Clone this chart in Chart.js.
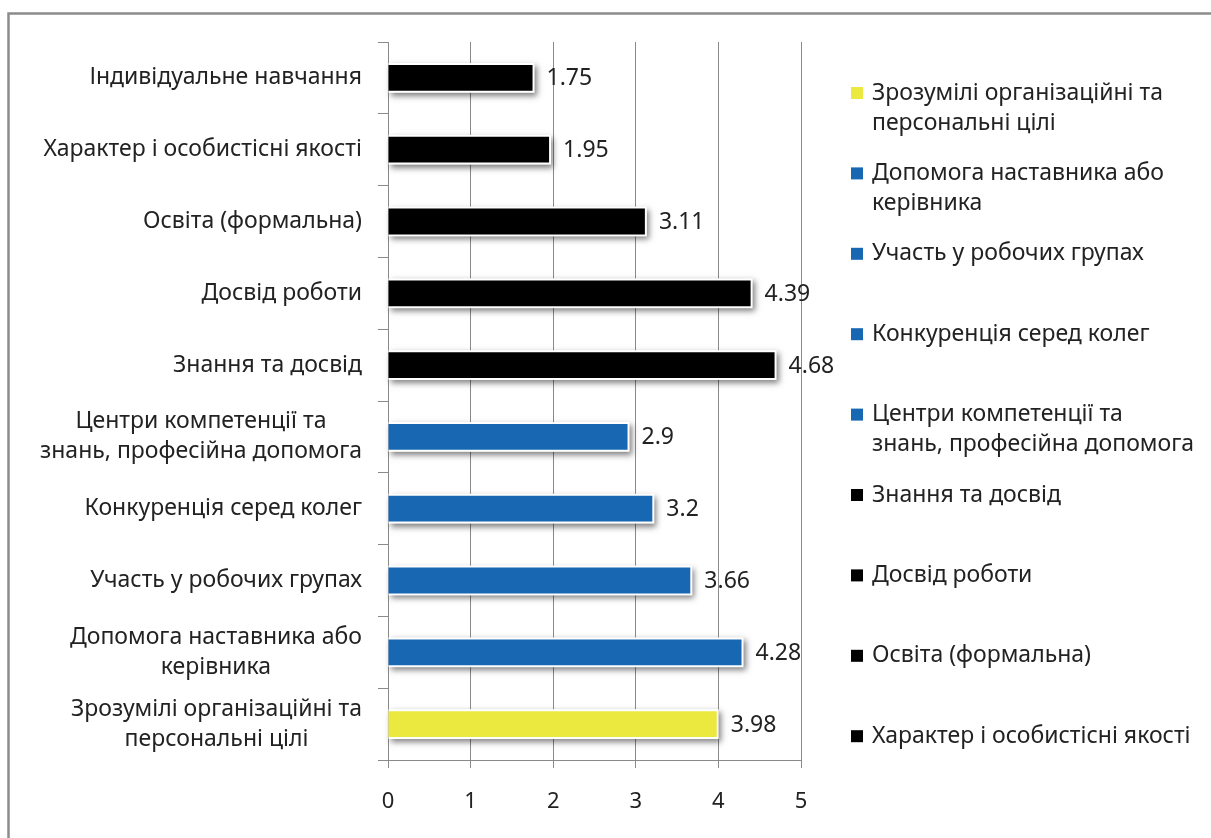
<!DOCTYPE html>
<html>
<head>
<meta charset="utf-8">
<script src="https://cdn.jsdelivr.net/npm/chart.js@4.4.1/dist/chart.umd.min.js"></script>
<style>
  html, body { margin: 0; padding: 0; background: #fff; }
  #wrap { width: 1211px; height: 838px; position: relative; }
</style>
</head>
<body>
<div id="wrap"><canvas id="barChart"></canvas></div>
<script>
// Дані графіка (зверху вниз)
const categories = [
    'Індивідуальне навчання',
    'Характер і особистісні якості',
    'Освіта (формальна)',
    'Досвід роботи',
    'Знання та досвід',
    ['Центри компетенції та', 'знань, професійна допомога'],
    'Конкуренція серед колег',
    'Участь у робочих групах',
    ['Допомога наставника або', 'керівника'],
    ['Зрозумілі організаційні та', 'персональні цілі']
];
const values = [1.75, 1.95, 3.11, 4.39, 4.68, 2.9, 3.2, 3.66, 4.28, 3.98];
const barColors = [
    '#000000', '#000000', '#000000', '#000000', '#000000',
    '#1767b3', '#1767b3', '#1767b3', '#1767b3',
    '#ebe93f'
];
const xTicks = [0, 1, 2, 3, 4, 5];

const FONT = '"Noto Sans", "Open Sans", sans-serif';
const TEXT = '#222222';
const GRID = '#8a8a8a';

// рамка навколо діаграми
const framePlugin = {
    id: 'frame',
    beforeDraw(chart) {
        const c = chart.ctx;
        c.save();
        c.strokeStyle = '#8c8c8c';
        c.lineWidth = 2.5;
        c.strokeRect(8.5, 13.5, 1400, 1000);
        c.restore();
    }
};

// тінь і біла обводка під стовпчиками
const shadowPlugin = {
    id: 'barShadow',
    beforeDatasetsDraw(chart) {
        const c = chart.ctx;
        const meta = chart.getDatasetMeta(0);
        c.save();
        c.fillStyle = '#ffffff';
        c.shadowColor = 'rgba(0,0,0,0.5)';
        c.shadowBlur = 6;
        c.shadowOffsetX = 2;
        c.shadowOffsetY = 3;
        meta.data.forEach(bar => {
            const p = bar.getProps(['x', 'y', 'base', 'height'], true);
            c.fillRect(p.base, p.y - p.height / 2 - 2, p.x - p.base + 2, p.height + 4);
        });
        c.restore();
    }
};

// підписи значень праворуч від стовпчиків
const valueLabels = {
    id: 'valueLabels',
    afterDatasetsDraw(chart) {
        const c = chart.ctx;
        const meta = chart.getDatasetMeta(0);
        c.save();
        c.font = '23px ' + FONT;
        c.fillStyle = TEXT;
        c.textAlign = 'left';
        c.textBaseline = 'middle';
        meta.data.forEach((bar, i) => {
            c.fillText(String(values[i]), bar.x + 14, bar.y + 1);
        });
        c.restore();
    }
};

// підписи категорій (багаторядкові центруються всередині блоку)
const categoryLabels = {
    id: 'categoryLabels',
    afterDraw(chart) {
        const c = chart.ctx;
        const yScale = chart.scales.y;
        const right = chart.chartArea.left - 26;
        const lh = 30;
        c.save();
        c.font = '23px ' + FONT;
        c.fillStyle = TEXT;
        c.textAlign = 'center';
        c.textBaseline = 'middle';
        categories.forEach((cat, i) => {
            const lines = Array.isArray(cat) ? cat : [cat];
            const maxW = Math.max(...lines.map(l => c.measureText(l).width));
            const cx = right - maxW / 2;
            const yc = yScale.getPixelForValue(i);
            lines.forEach((l, j) => {
                c.fillText(l, cx, yc + (j - (lines.length - 1) / 2) * lh);
            });
        });
        c.restore();
    }
};

// легенда праворуч (порядок знизу вгору, що не влізло - не показуємо)
const sideLegend = {
    id: 'sideLegend',
    afterDraw(chart) {
        const c = chart.ctx;
        const x0 = 851, top = 93, step = 80.4, lh = 30;
        c.save();
        c.font = '23px ' + FONT;
        c.textAlign = 'left';
        c.textBaseline = 'middle';
        for (let k = 0; k < categories.length; k++) {
            const i = categories.length - 1 - k;
            const y = top + k * step;
            if (y > chart.chartArea.bottom) break;
            const lines = Array.isArray(categories[i]) ? categories[i] : [categories[i]];
            c.fillStyle = barColors[i];
            c.fillRect(x0, y - 6, 12, 12);
            c.fillStyle = TEXT;
            lines.forEach((l, j) => c.fillText(l, x0 + 21, y + j * lh));
        }
        c.restore();
    }
};

const ctx = document.getElementById('barChart').getContext('2d');
const barChart = new Chart(ctx, {
    type: 'bar',
    data: {
        labels: categories,
        datasets: [{
            data: values,
            backgroundColor: barColors,
            borderWidth: 0,
            categoryPercentage: 1,
            barPercentage: 0.36
        }]
    },
    options: {
        indexAxis: 'y',
        responsive: true, maintainAspectRatio: false,
        animation: false,
        layout: { padding: { left: 0, right: 410, top: 42, bottom: 0 } },
        plugins: { legend: { display: false }, tooltip: { enabled: false } },
        scales: {
            x: {
                type: 'linear', min: 0, max: 5,
                afterBuildTicks: scale => { scale.ticks = xTicks.map(v => ({ value: v })); },
                afterFit: scale => { scale.height = 78; },
                grid: { color: GRID, lineWidth: 1, tickLength: 8 },
                border: { color: GRID, width: 1 },
                ticks: { color: TEXT, font: { family: FONT, size: 22 }, padding: 21 }
            },
            y: {
                afterFit: scale => { scale.width = 388; },
                grid: { drawOnChartArea: false, color: GRID, tickLength: 10, offset: true },
                border: { color: GRID, width: 1 },
                ticks: { display: false }
            }
        }
    },
    plugins: [framePlugin, shadowPlugin, valueLabels, categoryLabels, sideLegend]
});
</script>
</body>
</html>
